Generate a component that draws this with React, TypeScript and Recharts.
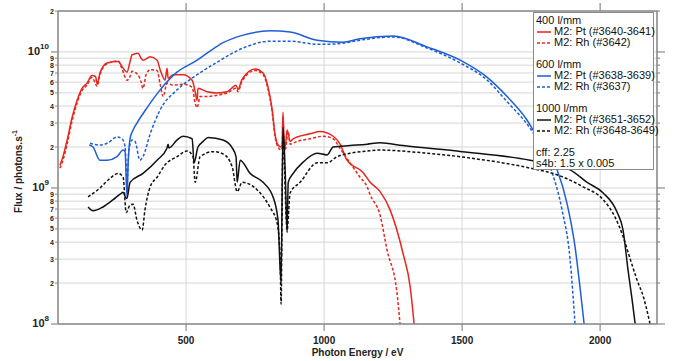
import React from 'react';
import { LineChart, Line, XAxis, YAxis, CartesianGrid, Label } from 'recharts';

// energies in eV, flux in units of 1e9 photons/s
const redPtE = [43, 54, 69, 87, 105, 123, 141, 159, 172, 178, 188, 214, 254, 268, 286, 297, 304, 326, 337, 344, 370, 395, 406, 424, 431, 435, 453, 489, 522, 533, 540, 543, 576, 612, 649, 681, 688, 703, 750, 779, 797, 812, 822, 833, 844, 848, 851, 855, 859, 866, 877, 888, 902, 949, 985, 1033, 1058, 1083, 1141, 1167, 1203, 1239, 1286, 1312, 1326];
const redPtF = [1.47, 1.7, 2.25, 3.3, 4.4, 5.4, 5.9, 6.7, 6.6, 5.8, 7.0, 8.3, 8.5, 7.8, 7.1, 8.5, 9.5, 9.8, 9.0, 8.7, 9.2, 8.7, 7.4, 6.2, 7.6, 6.4, 6.8, 6.8, 6.2, 5.1, 4.4, 5.4, 5.1, 5.0, 5.1, 5.7, 5.3, 6.3, 7.5, 7.0, 5.5, 3.75, 2.5, 2.07, 2.0, 2.1, 3.6, 2.2, 2.0, 2.67, 2.2, 2.3, 2.37, 2.5, 2.6, 2.4, 2.1, 1.6, 1.3, 1.1, 0.94, 0.69, 0.33, 0.187, 0.1];

const redRhE = [43, 54, 69, 87, 105, 123, 141, 159, 178, 188, 214, 254, 268, 286, 297, 304, 326, 337, 344, 355, 370, 395, 406, 417, 431, 453, 489, 522, 533, 540, 551, 576, 612, 649, 681, 688, 703, 750, 779, 797, 812, 822, 833, 844, 848, 851, 855, 859, 870, 877, 902, 949, 996, 1033, 1058, 1094, 1130, 1156, 1167, 1203, 1228, 1264, 1275];
const redRhF = [1.4, 1.6, 2.1, 3.1, 4.2, 5.2, 5.7, 6.5, 5.6, 6.8, 8.2, 8.6, 7.5, 6.2, 6.6, 7.2, 6.8, 6.0, 5.4, 6.8, 7.4, 7.3, 5.8, 4.7, 5.9, 5.7, 5.8, 5.5, 4.2, 3.9, 4.7, 4.7, 4.8, 5.0, 5.4, 5.1, 6.1, 7.3, 6.8, 5.3, 3.6, 2.4, 2.0, 1.9, 2.0, 3.3, 2.1, 1.9, 2.6, 2.1, 2.2, 2.3, 2.4, 2.3, 1.95, 1.53, 1.2, 1.02, 0.89, 0.63, 0.35, 0.17, 0.1];

const bluePtE = [149, 163, 188, 214, 250, 272, 279, 286, 290, 297, 308, 322, 359, 406, 467, 540, 576, 634, 707, 804, 877, 975, 1069, 1130, 1250, 1373, 1493, 1591, 1663, 1735, 1757, 1800, 1844, 1880, 1909, 1927, 1942];
const bluePtF = [2.07, 2.0, 1.6, 1.6, 1.7, 1.9, 1.85, 0.86, 1.5, 2.3, 2.67, 3.0, 3.9, 5.26, 7.1, 8.7, 9.8, 11.7, 13.3, 14.3, 14.0, 12.2, 11.8, 12.5, 13.1, 10.9, 8.7, 6.5, 4.7, 3.16, 2.67, 1.95, 1.36, 0.77, 0.37, 0.187, 0.1];

const blueRhE = [152, 188, 214, 250, 268, 279, 286, 293, 304, 315, 333, 344, 370, 406, 467, 540, 612, 707, 804, 877, 975, 1011, 1069, 1130, 1250, 1373, 1493, 1591, 1663, 1746, 1790, 1826, 1862, 1891, 1909];
const blueRhF = [2.13, 2.07, 2.13, 2.37, 2.3, 2.0, 1.1, 1.9, 2.25, 2.2, 1.6, 1.7, 2.5, 3.75, 5.26, 6.8, 8.4, 10.7, 12.0, 12.0, 11.4, 11.4, 11.6, 12.2, 12.9, 10.7, 8.3, 6.2, 4.3, 2.75, 1.95, 1.3, 0.69, 0.3, 0.1];

const blackPtE = [145, 163, 199, 236, 261, 272, 283, 286, 297, 344, 395, 431, 435, 438, 467, 489, 522, 529, 543, 562, 580, 634, 667, 681, 685, 696, 732, 779, 815, 833, 844, 851, 859, 866, 870, 888, 924, 975, 1011, 1033, 1094, 1156, 1203, 1286, 1500, 1746, 1891, 1953, 2011, 2062, 2083, 2101, 2116, 2127];
const blackPtF = [0.725, 0.68, 0.725, 0.82, 0.9, 0.93, 0.84, 0.84, 1.1, 1.28, 1.6, 1.97, 2.1, 1.97, 2.25, 2.4, 2.3, 1.53, 2.0, 2.2, 2.35, 2.25, 1.97, 1.7, 1.1, 1.6, 1.28, 1.1, 0.86, 0.58, 0.2, 2.8, 1.35, 0.47, 1.1, 1.28, 1.55, 1.8, 1.75, 2.0, 2.05, 2.1, 2.15, 2.05, 1.85, 1.6, 1.36, 1.1, 0.92, 0.66, 0.49, 0.25, 0.15, 0.1];

const blackRhE = [145, 188, 225, 254, 272, 283, 297, 308, 322, 341, 351, 370, 395, 424, 467, 504, 525, 533, 551, 598, 634, 667, 685, 703, 757, 804, 830, 841, 844, 851, 866, 877, 913, 975, 1011, 1047, 1094, 1156, 1203, 1348, 1529, 1746, 1844, 1938, 2011, 2054, 2083, 2109, 2134, 2156, 2181];
const blackRhF = [0.86, 1.0, 1.18, 1.28, 1.2, 0.66, 0.75, 0.76, 0.58, 0.49, 0.69, 1.02, 1.2, 1.48, 1.7, 1.87, 1.7, 1.1, 1.7, 1.85, 1.78, 1.43, 0.94, 1.1, 0.97, 0.72, 0.55, 0.3, 0.14, 2.2, 0.49, 0.92, 1.1, 1.53, 1.53, 1.7, 1.8, 1.87, 1.9, 1.82, 1.66, 1.4, 1.25, 1.02, 0.82, 0.61, 0.44, 0.3, 0.21, 0.16, 0.1];

const xTicks = [500, 1000, 1500, 2000];
const yTicks = [1, 2, 3, 4, 5, 6, 7, 8, 9, 10, 20, 30, 40, 50, 60, 70, 80, 90, 100, 200].map((m) => m * 1e8);

const RED = '#e8261f';
const BLUE = '#1d5ed8';
const BLACK = '#111111';
const AXIS = '#8a8a8a';
const FONT = '"Liberation Sans", Arial, Helvetica, sans-serif';

const legendGroups = [
  { title: '400 l/mm', color: RED, items: ['M2: Pt (#3640-3641)', 'M2: Rh (#3642)'] },
  { title: '600 l/mm', color: BLUE, items: ['M2: Pt (#3638-3639)', 'M2: Rh (#3637)'] },
  { title: '1000 l/mm', color: BLACK, items: ['M2: Pt (#3651-3652)', 'M2: Rh (#3648-3649)'] },
];
const notes = ['cff: 2.25', 's4b: 1.5 x 0.005'];

const zip = (e: number[], f: number[]) => e.map((x, i) => ({ e: x, f: f[i] * 1e9 }));

function LeftTick(props: any) {
  const { x, y, payload } = props;
  const v = payload.value;
  const exp = Math.floor(Math.log10(v) + 1e-9);
  const m = Math.round(v / Math.pow(10, exp));
  if (m === 1) {
    return (
      <g>
        <line x1={x - 7} x2={x} y1={y} y2={y} stroke={AXIS} strokeWidth={1.2} />
        <text x={x - 9} y={y + 3} textAnchor="end" fontSize={11} fontWeight="bold" fill="#222" fontFamily={FONT}>
          10<tspan fontSize={8} dy={-6}>{exp}</tspan>
        </text>
      </g>
    );
  }
  return (
    <g>
      <line x1={x - 3} x2={x} y1={y} y2={y} stroke={AXIS} strokeWidth={1} />
      <text x={x - 4} y={y + 2.5} textAnchor="end" fontSize={7} fontWeight="bold" fill="#222" fontFamily={FONT}>
        {m}
      </text>
    </g>
  );
}

function RightTick(props: any) {
  const { x, y, payload } = props;
  const v = payload.value;
  const exp = Math.floor(Math.log10(v) + 1e-9);
  const m = Math.round(v / Math.pow(10, exp));
  const len = m === 1 ? 8 : 3;
  return <line x1={x} x2={x + len} y1={y} y2={y} stroke={AXIS} strokeWidth={1.2} />;
}

function BottomTick(props: any) {
  const { x, y, payload } = props;
  return (
    <g>
      <line x1={x} x2={x} y1={y} y2={y + 7} stroke={AXIS} strokeWidth={1.2} />
      <text x={x} y={y + 20} textAnchor="middle" fontSize={10} fontWeight="bold" fill="#222" fontFamily={FONT}>
        {payload.value}
      </text>
    </g>
  );
}

function TopTick(props: any) {
  const { x, y } = props;
  return <line x1={x} x2={x} y1={y} y2={y - 8} stroke={AXIS} strokeWidth={1.2} />;
}

function YTitle(props: any) {
  const vb = props.viewBox || { x: 0, y: 11, width: 58, height: 313 };
  const cx = vb.x + 22;
  const cy = vb.y + vb.height / 2 + 4;
  return (
    <text x={cx} y={cy} transform={`rotate(-90 ${cx} ${cy})`} textAnchor="middle" fontSize={10} fontWeight="bold" fill="#222" fontFamily={FONT}>
      Flux / photons.s<tspan fontSize={7} dy={-5}>-1</tspan>
    </text>
  );
}

function XTitle(props: any) {
  const vb = props.viewBox || { x: 58, y: 324, width: 599, height: 37 };
  return (
    <text x={vb.x + vb.width / 2} y={vb.y + 32} textAnchor="middle" fontSize={10} fontWeight="bold" fill="#222" fontFamily={FONT}>
      Photon Energy / eV
    </text>
  );
}

function LegendBox() {
  const row = { height: 11, lineHeight: '11px', whiteSpace: 'nowrap' as const };
  return (
    <div
      style={{
        position: 'absolute', left: 533, top: 12, width: 121, height: 158,
        border: `1px solid ${AXIS}`, background: '#fff', fontFamily: FONT, fontSize: 11,
        color: '#111', padding: '2px 0 0 2px', boxSizing: 'border-box',
      }}
    >
      {legendGroups.map((g) => (
        <div key={g.title} style={{ marginBottom: 11 }}>
          <div style={row}>{g.title}</div>
          {g.items.map((it, i) => (
            <div key={it} style={{ ...row, display: 'flex', alignItems: 'center' }}>
              <svg width={18} height={11} style={{ flex: 'none' }}>
                <line x1={1} x2={15} y1={6} y2={6} stroke={g.color} strokeWidth={1.5} strokeDasharray={i === 1 ? '3 2' : undefined} />
              </svg>
              <span>{it}</span>
            </div>
          ))}
        </div>
      ))}
      {notes.map((n) => (
        <div key={n} style={row}>{n}</div>
      ))}
    </div>
  );
}

export default function App() {
  const series = [
    { data: zip(redPtE, redPtF), color: RED, dash: undefined },
    { data: zip(redRhE, redRhF), color: RED, dash: '3 2' },
    { data: zip(bluePtE, bluePtF), color: BLUE, dash: undefined },
    { data: zip(blueRhE, blueRhF), color: BLUE, dash: '3 2' },
    { data: zip(blackPtE, blackPtF), color: BLACK, dash: undefined },
    { data: zip(blackRhE, blackRhF), color: BLACK, dash: '3 2' },
  ];
  return (
    <div style={{ position: 'absolute', left: 0, top: 0, width: 680, height: 361, background: '#fff' }}>
      <LineChart width={680} height={361} margin={{ top: 0, right: 0, bottom: 0, left: 0 }}>
        <CartesianGrid stroke="#d6d6d6" strokeWidth={1} />
        <XAxis
          dataKey="e" type="number" domain={[36, 2206]} ticks={xTicks} allowDataOverflow
          height={37} stroke={AXIS} strokeWidth={1.5} tickLine={false} tickSize={0} tickMargin={0} tick={<BottomTick />}
        >
          <Label content={<XTitle />} />
        </XAxis>
        <XAxis
          xAxisId="top" orientation="top" dataKey="e" type="number" domain={[36, 2206]} ticks={xTicks} allowDataOverflow
          height={11} stroke={AXIS} strokeWidth={1.5} tickLine={false} tickSize={0} tickMargin={0} tick={<TopTick />}
        />
        <YAxis
          type="number" scale="log" domain={[1e8, 2e10]} ticks={yTicks} allowDataOverflow
          width={58} stroke={AXIS} strokeWidth={1.5} tickLine={false} tickSize={0} tickMargin={0} tick={<LeftTick />} interval={0}
        >
          <Label content={<YTitle />} />
        </YAxis>
        <YAxis
          yAxisId="right" orientation="right" type="number" scale="log" domain={[1e8, 2e10]} ticks={yTicks} allowDataOverflow
          width={23} stroke={AXIS} strokeWidth={1.5} tickLine={false} tickSize={0} tickMargin={0} tick={<RightTick />} interval={0}
        />
        {series.map((s, i) => (
          <Line
            key={i} data={s.data} dataKey="f" type="monotone" stroke={s.color} strokeWidth={1.5}
            strokeDasharray={s.dash} dot={false} activeDot={false} isAnimationActive={false}
          />
        ))}
      </LineChart>
      <LegendBox />
    </div>
  );
}
